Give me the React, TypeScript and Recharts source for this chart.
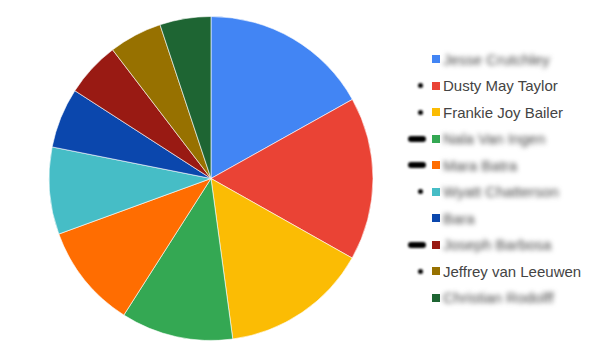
import React from 'react'
import { PieChart, Pie, Cell, Legend } from 'recharts'

const NAMES = [
  'Jesse Crutchley',
  'Dusty May Taylor',
  'Frankie Joy Bailer',
  'Nala Van Ingen',
  'Mara Batra',
  'Wyatt Chatterson',
  'Bara',
  'Joseph Barbosa',
  'Jeffrey van Leeuwen',
  'Christian Rodolff',
]
const VALUES = [169, 163, 147, 112, 104, 87, 60, 55, 53, 51]
const COLORS = [
  '#4285f4', '#ea4335', '#fbbc04', '#34a853', '#ff6d01',
  '#46bdc6', '#0b47ad', '#991a13', '#977100', '#1e6533',
]
// which legend names are smudged out, and the ink mark left beside each row
const SMUDGED = [true, false, false, true, true, true, true, true, false, true]
const MARKS = ['', 'dot', 'dot', 'bar', 'bar', 'dot', '', 'bar', 'dot', '']

const data = NAMES.map((name, i) => ({ name, value: VALUES[i] }))

const LegendList = () => (
  <div style={{ fontFamily: 'Arial, "Liberation Sans", sans-serif', fontSize: 15 }}>
    {NAMES.map((name, i) => (
      <div
        key={name}
        style={{ position: 'relative', height: 26.5, display: 'flex', alignItems: 'center' }}
      >
        {MARKS[i] && (
          <span
            style={{
              position: 'absolute',
              left: MARKS[i] === 'bar' ? 3 : 13,
              width: MARKS[i] === 'bar' ? 18 : 5,
              height: MARKS[i] === 'bar' ? 6 : 5,
              borderRadius: 3,
              background: '#000',
              filter: 'blur(1px)',
            }}
          />
        )}
        <span
          style={{
            marginLeft: 27,
            width: 8,
            height: 8,
            background: COLORS[i],
            flex: 'none',
          }}
        />
        <span
          style={{
            marginLeft: 3,
            color: '#444',
            filter: SMUDGED[i] ? 'blur(2.6px)' : undefined,
            whiteSpace: 'nowrap',
          }}
        >
          {name}
        </span>
      </div>
    ))}
  </div>
)

export default function App() {
  return (
    <div style={{ width: 594, height: 355, background: '#fff' }}>
      <style>{'body{margin:0}'}</style>
      <PieChart width={594} height={355} margin={{ top: 0, right: 0, bottom: 0, left: 0 }}>
        <Pie
          data={data}
          dataKey="value"
          nameKey="name"
          cx={211}
          cy={178.5}
          outerRadius={162}
          startAngle={90}
          endAngle={-270}
          stroke="#fff"
          strokeWidth={0.6}
          isAnimationActive={false}
        >
          {data.map((entry, index) => (
            <Cell key={`cell-${index}`} fill={COLORS[index]} />
          ))}
        </Pie>
        <Legend
          content={() => <LegendList />}
          wrapperStyle={{ position: 'absolute', left: 405, top: 46, width: 189 }}
        />
      </PieChart>
    </div>
  )
}
